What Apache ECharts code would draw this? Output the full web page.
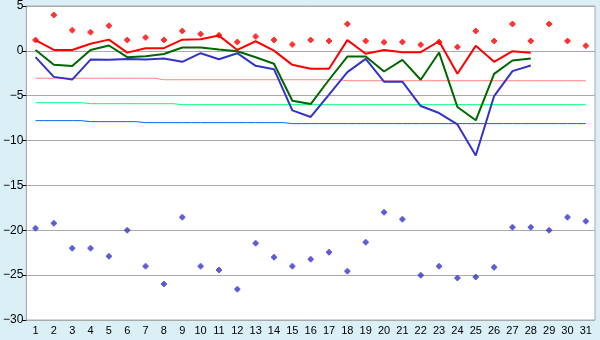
<!DOCTYPE html>
<html>
<head>
<meta charset="utf-8">
<script src="https://cdn.jsdelivr.net/npm/echarts@6/dist/echarts.min.js"></script>
<style>html,body{margin:0;padding:0;background:#daeff6;}#c{width:600px;height:340px;}</style>
</head>
<body>
<div id="c"></div>
<script>
var categories = ['1','2','3','4','5','6','7','8','9','10','11','12','13','14','15','16','17','18','19','20','21','22','23','24','25','26','27','28','29','30','31'];
var redLine = [1.2,0.1,0.1,0.8,1.25,-0.2,0.3,0.3,1.25,1.3,1.7,0.1,1.07,0.03,-1.56,-2.0,-2.0,1.2,-0.33,0.1,-0.15,-0.15,1.07,-2.56,0.56,-1.22,-0.04,-0.22,null,null,null];
var redPoints = [1.2,4.0,2.3,2.07,2.8,1.2,1.5,1.2,2.2,1.89,1.73,1.0,1.59,1.22,0.7,1.22,1.11,3.0,1.11,0.96,1.0,0.67,1.0,0.44,2.22,1.11,3.0,1.11,3.0,1.11,0.56];
var greenLine = [0.1,-1.55,-1.7,0.1,0.6,-0.7,-0.6,-0.35,0.37,0.37,0.14,-0.04,-0.71,-1.44,-5.56,-5.93,-3.22,-0.63,-0.63,-2.3,-1.0,-3.22,-0.19,-6.26,-7.74,-2.56,-1.08,-0.85,null,null,null];
var blueLine = [-0.7,-2.9,-3.2,-0.97,-1.0,-0.9,-0.97,-0.85,-1.22,-0.26,-0.93,-0.26,-1.67,-2.04,-6.63,-7.37,-4.89,-2.37,-0.89,-3.44,-3.44,-6.15,-6.93,-8.2,-11.67,-5.04,-2.26,-1.63,null,null,null];
var bluePoints = [-19.78,-19.22,-22.0,-22.0,-22.89,-20.0,-24.0,-26.0,-18.56,-24.0,-24.44,-26.56,-21.44,-23.0,-24.0,-23.22,-22.44,-24.56,-21.33,-18.0,-18.78,-25.0,-24.0,-25.33,-25.22,-24.11,-19.67,-19.67,-20.0,-18.56,-19.0];
var pinkStep = [-3.05,-3.05,-3.05,-3.05,-3.05,-3.05,-3.05,-3.22,-3.22,-3.22,-3.22,-3.22,-3.22,-3.22,-3.22,-3.22,-3.22,-3.33,-3.33,-3.33,-3.33,-3.33,-3.33,-3.33,-3.33,-3.33,-3.33,-3.33,-3.33,-3.33,-3.33];
var greenStep = [-5.78,-5.78,-5.78,-5.89,-5.89,-5.89,-5.89,-5.89,-6.0,-6.0,-6.0,-6.0,-6.0,-6.0,-6.0,-6.0,-6.0,-6.0,-6.0,-6.0,-6.0,-6.0,-6.0,-6.0,-6.0,-6.0,-6.0,-6.0,-6.0,-6.0,-6.0];
var blueStep = [-7.78,-7.78,-7.78,-7.89,-7.89,-7.89,-8.0,-8.0,-8.0,-8.0,-8.0,-8.0,-8.0,-8.0,-8.11,-8.11,-8.11,-8.11,-8.11,-8.11,-8.11,-8.11,-8.11,-8.11,-8.11,-8.11,-8.11,-8.11,-8.11,-8.11,-8.11];
var yTicks = {min:-30, max:5, interval:5};

var chart = echarts.init(document.getElementById('c'), null, {renderer:'canvas'});
var font = 'Liberation Sans';
var marker = 'path://M2,0 L4,0 L4,1 L5,1 L5,2 L6,2 L6,4 L5,4 L5,5 L4,5 L4,6 L2,6 L2,5 L1,5 L1,4 L0,4 L0,2 L1,2 L1,1 L2,1 Z';
function stepSeries(data, color){
  return {type:'line', data:data, step:'middle', symbol:'none', lineStyle:{color:color, width:1}, silent:true, z:2};
}
chart.setOption({
  animation:false,
  backgroundColor:'#daeff6',
  grid:{left:26, right:5, top:5, bottom:20, show:true, backgroundColor:'#ffffff', borderColor:'#aaaaaa', borderWidth:1},
  xAxis:{type:'category', data:categories, boundaryGap:true,
    axisLine:{lineStyle:{color:'#aaaaaa'}},
    axisTick:{alignWithLabel:true, length:4, lineStyle:{color:'#000000'}},
    axisLabel:{color:'#000', fontFamily:font, fontSize:11, margin:5, interval:0},
    splitLine:{show:false}},
  yAxis:{type:'value', min:yTicks.min, max:yTicks.max, interval:yTicks.interval,
    axisLine:{show:true, lineStyle:{color:'#aaaaaa'}},
    axisTick:{show:true, length:4, lineStyle:{color:'#000000'}},
    axisLabel:{color:'#000', fontFamily:font, fontSize:12, margin:3,
      formatter:function(v){return String(v).replace('-','\u2212');}},
    splitLine:{lineStyle:{color:'#aaaaaa', width:1}}},
  series:[
    stepSeries(pinkStep,'#ff8080'),
    stepSeries(greenStep,'#00ff80'),
    stepSeries(blueStep,'#0066ee'),
    {type:'line', data:blueLine, symbol:'none', lineStyle:{color:'#3333cc', width:2}, z:3},
    {type:'line', data:greenLine, symbol:'none', lineStyle:{color:'#006600', width:2}, z:4},
    {type:'line', data:redLine, symbol:'none', lineStyle:{color:'#ff0000', width:2}, z:5},
    {type:'scatter', data:redPoints, symbol:marker, symbolSize:6, itemStyle:{color:'#ff0000'}, z:6},
    {type:'scatter', data:bluePoints, symbol:marker, symbolSize:6, itemStyle:{color:'#3333cc'}, z:6}
  ]
});
</script>
</body>
</html>
